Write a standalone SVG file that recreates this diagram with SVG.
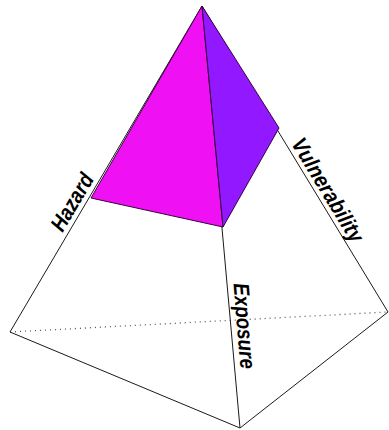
<svg xmlns="http://www.w3.org/2000/svg" width="389" height="430" viewBox="0 0 389 430">
<style>
.edge{stroke:#1a1a1a;stroke-width:1;fill:none;stroke-linejoin:round}
.hidden{stroke:#555;stroke-width:1.3;fill:none;stroke-dasharray:1 4}
.face{stroke:#3a0040;stroke-width:1;stroke-linejoin:round}
.lbl{font-family:"Liberation Sans",Arial,sans-serif;font-weight:bold;font-style:italic;font-size:22px;fill:#000;text-anchor:middle}
</style>
<rect width="389" height="430" fill="#fff"/>
<g id="base">
<line class="hidden" x1="10" y1="332" x2="388" y2="312"/>
<polyline class="edge" points="10,332 240,428 388,312"/>
</g>
<g id="edges">
<line class="edge" x1="202" y1="6" x2="10" y2="332"/>
<line class="edge" x1="202" y1="6" x2="240" y2="428"/>
<line class="edge" x1="202" y1="6" x2="388" y2="312"/>
</g>
<g id="top-front-face">
<polygon class="face" fill="#f010f4" points="202,6 91,198 223,227"/>
</g>
<g id="top-side-face">
<polygon class="face" fill="#9118ff" points="202,6 223,227 279,128"/>
</g>
<g id="label-hazard">
<text class="lbl" transform="translate(82,208) rotate(-59.5)" y="-4" textLength="63" lengthAdjust="spacingAndGlyphs">Hazard</text>
</g>
<g id="label-vulnerability">
<text class="lbl" transform="translate(318,196) rotate(58.7)" y="-4" textLength="118" lengthAdjust="spacingAndGlyphs">Vulnerability</text>
</g>
<g id="label-exposure">
<text class="lbl" transform="translate(231,327) rotate(85.2)" y="-6" textLength="86" lengthAdjust="spacingAndGlyphs">Exposure</text>
</g>
</svg>
